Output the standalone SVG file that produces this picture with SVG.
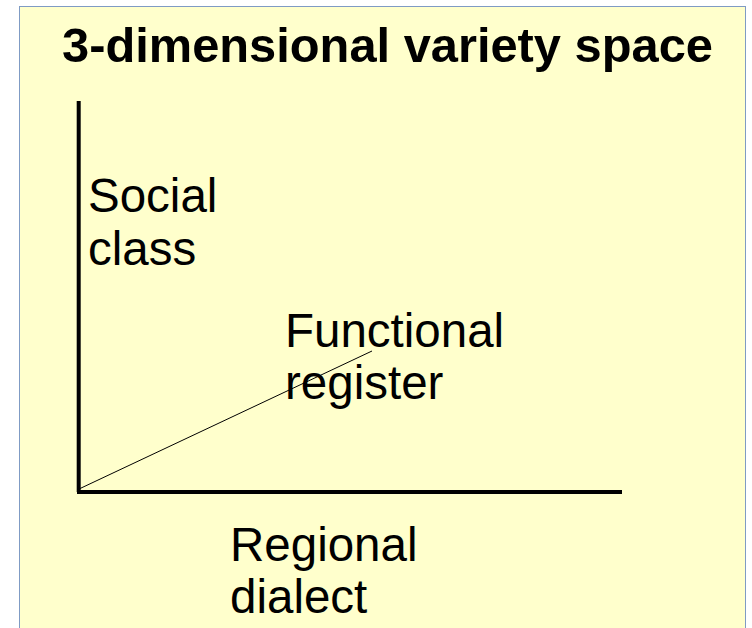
<svg xmlns="http://www.w3.org/2000/svg" width="752" height="628" viewBox="0 0 752 628">
<style>
text{font-family:"Liberation Sans",Arial,sans-serif;font-size:47.5px;fill:#000}
.title{font-weight:bold;font-size:48.8px}
.axis{stroke:#000;stroke-width:4;fill:none}
.diag{stroke:#000;stroke-width:1;fill:none}
</style>
<rect x="0" y="0" width="752" height="628" fill="#ffffff"/>
<rect x="19.5" y="6.5" width="726" height="640" fill="#ffffcc" stroke="#7f9bc4" stroke-width="1"/>
<g id="title"><text class="title" x="62" y="62">3-dimensional variety space</text></g>
<g id="connectors">
<line class="axis" x1="78.7" y1="101" x2="78.7" y2="492"/>
<line class="axis" x1="77" y1="492" x2="622" y2="492"/>
<line class="diag" x1="79" y1="489" x2="372" y2="351"/>
</g>
<g id="social-class"><text x="88" y="212">Social</text><text x="88" y="265">class</text></g>
<g id="functional-register"><text x="285" y="347">Functional</text><text x="285" y="399">register</text></g>
<g id="regional-dialect"><text x="230" y="561">Regional</text><text x="230" y="613">dialect</text></g>
</svg>
